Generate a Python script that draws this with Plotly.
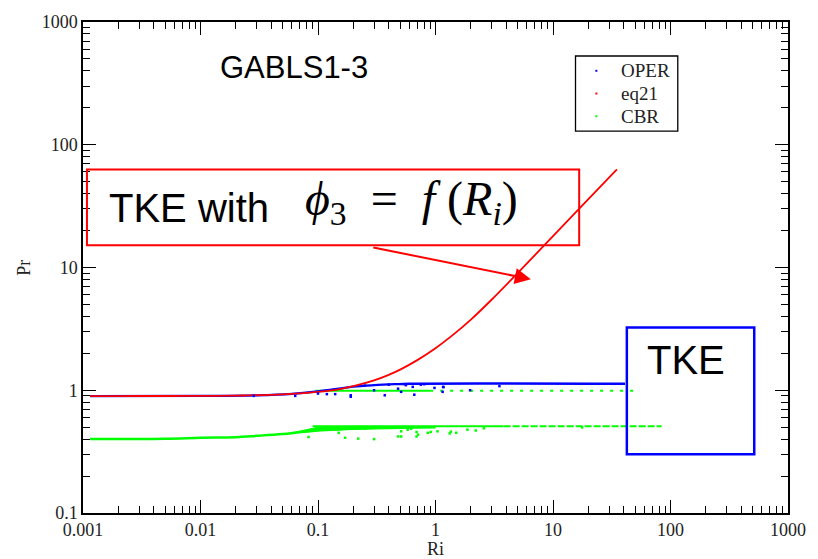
import plotly.graph_objects as go

# ---------------- data ----------------
eq21_ri = [0.00115, 0.002, 0.005, 0.01, 0.02, 0.05, 0.1, 0.15, 0.2, 0.3, 0.4, 0.5, 0.7,
           1.0, 1.4, 2.0, 3.0, 5.0, 10.0, 20.0, 35.0]
eq21_pr = [0.897, 0.897, 0.898, 0.9, 0.905, 0.925, 0.97, 1.018, 1.079, 1.203, 1.335, 1.472, 1.76,
           2.20, 2.81, 3.76, 5.46, 9.0, 18.0, 36.0, 63.0]

oper_ri = [0.00115, 0.01, 0.03, 0.06, 0.1, 0.15, 0.2, 0.3, 0.45, 0.6, 41.0]
oper_pr = [0.897, 0.9, 0.91, 0.935, 0.98, 1.03, 1.07, 1.1, 1.12, 1.13, 1.13]
oper_dot_ri = [0.56, 0.64, 0.66, 0.98, 1.15, 1.17, 1.97, 3.5, 0.75, 0.51, 0.19, 0.19, 0.119,
               0.14, 0.37, 1.16, 0.30, 0.48, 0.10, 0.064, 0.0284, 0.25, 0.4, 0.55, 0.8]
oper_dot_pr = [1.10, 1.065, 0.92, 1.045, 0.97, 1.06, 1.0, 1.08, 1.11, 0.97, 0.885, 0.91, 0.93,
               0.93, 0.91, 1.065, 1.0, 1.03, 0.94, 0.9, 0.9, 1.09, 1.11, 1.12, 1.12]

cbr_up_ri = [0.095, 0.2, 0.5, 0.9]
cbr_up_pr = [0.99, 0.99, 0.99, 0.99]
cbr_up2_ri = [0.9, 51.0]
cbr_up2_pr = [0.99, 0.99]
cbr_lo_ri = [0.00115, 0.005, 0.01, 0.02, 0.03, 0.05, 0.07, 0.1, 0.15, 0.2, 0.3, 0.5, 1.0]
cbr_lo_pr = [0.40, 0.403, 0.41, 0.415, 0.425, 0.44, 0.455, 0.47, 0.48, 0.485, 0.49, 0.495, 0.5]
cbr_top_ri = [0.09, 3.8]
cbr_top_pr = [0.508, 0.508]
cbr_top2_ri = [3.8, 84.0]
cbr_top2_pr = [0.508, 0.508]
cbr_band_ri = [0.06, 0.1, 0.2, 0.35, 0.35, 0.2, 0.1, 0.06]
cbr_band_pr = [0.45, 0.5, 0.508, 0.508, 0.49, 0.48, 0.47, 0.45]
cbr_dot_ri = [0.083, 0.17, 0.22, 0.30, 0.48, 0.71, 0.91, 1.35, 2.2, 0.15, 0.25, 0.37, 0.62,
              0.51, 0.58, 0.69, 0.86, 1.04, 1.32, 1.5, 1.87, 2.58, 17.7, 0.51, 0.69]
cbr_dot_pr = [0.416, 0.41, 0.404, 0.40, 0.42, 0.435, 0.457, 0.46, 0.47, 0.45, 0.486, 0.498, 0.486,
              0.463, 0.477, 0.457, 0.45, 0.463, 0.445, 0.45, 0.477, 0.49, 0.498, 0.42, 0.42]

legend_names = ["OPER", "eq21", "CBR"]
x_tickvals = [0.001, 0.01, 0.1, 1, 10, 100, 1000]
x_ticktext = ["0.001", "0.01", "0.1", "1", "10", "100", "1000"]
y_tickvals = [0.1, 1, 10, 100, 1000]
y_ticktext = ["0.1", "1", "10", "100", "1000"]

BLUE, RED, GREEN = "#0000ff", "#ff0000", "#00ff00"
SERIF = "Liberation Serif"
SANS = "Liberation Sans"
TXT = "#222222"

# ---------------- layout geometry ----------------
WIDTH, HEIGHT = 818, 559
PL, PR, PT, PB = 83, 793, 15.6, 512.7
PW, PH = PR - PL, PB - PT


def px(x):
    return (x - PL) / PW


def py(y):
    return (PB - y) / PH


fig = go.Figure()

# green (CBR)
fig.add_trace(go.Scatter(x=cbr_band_ri, y=cbr_band_pr, mode="lines", fill="toself",
                         fillcolor=GREEN, line=dict(color=GREEN, width=1), name="CBR",
                         showlegend=False))
fig.add_trace(go.Scatter(x=cbr_lo_ri, y=cbr_lo_pr, mode="lines", line_shape="spline",
                         line=dict(color=GREEN, width=2.5), name="CBR", showlegend=False))
fig.add_trace(go.Scatter(x=cbr_top_ri, y=cbr_top_pr, mode="lines",
                         line=dict(color=GREEN, width=2), name="CBR", showlegend=False))
fig.add_trace(go.Scatter(x=cbr_top2_ri, y=cbr_top2_pr, mode="lines",
                         line=dict(color=GREEN, width=2, dash="7px,2px"), name="CBR",
                         showlegend=False))
fig.add_trace(go.Scatter(x=cbr_up_ri, y=cbr_up_pr, mode="lines",
                         line=dict(color=GREEN, width=2), name="CBR", showlegend=False))
fig.add_trace(go.Scatter(x=cbr_up2_ri, y=cbr_up2_pr, mode="lines",
                         line=dict(color=GREEN, width=2, dash="3px,7px"), name="CBR",
                         showlegend=False))
fig.add_trace(go.Scatter(x=cbr_dot_ri, y=cbr_dot_pr, mode="markers", name="CBR",
                         marker=dict(color=GREEN, size=2.5, symbol="square"), showlegend=False))
# blue (OPER)
fig.add_trace(go.Scatter(x=oper_ri, y=oper_pr, mode="lines", line_shape="spline",
                         line=dict(color=BLUE, width=2.3), name="OPER", showlegend=False))
# red (eq21)
fig.add_trace(go.Scatter(x=eq21_ri, y=eq21_pr, mode="lines", line_shape="spline",
                         line=dict(color=RED, width=1.8), name="eq21", showlegend=False))
fig.add_trace(go.Scatter(x=oper_dot_ri, y=oper_dot_pr, mode="markers", name="OPER",
                         marker=dict(color=BLUE, size=2.5, symbol="square"), showlegend=False))

axis_common = dict(
    type="log", showgrid=False, zeroline=False, showline=True, linecolor="black",
    linewidth=1.5, mirror="allticks", ticks="inside", ticklen=13, tickwidth=1.2,
    tickcolor="black", tickfont=dict(family=SERIF, size=18, color=TXT),
    tickmode="array",
)

x_minor = [m * 10 ** e for e in range(-3, 3) for m in range(2, 10)]
y_minor = [m * 10 ** e for e in range(-1, 3) for m in range(2, 10)]

fig.update_xaxes(range=[-3, 3], tickvals=x_tickvals, ticktext=x_ticktext,
                 minor=dict(tickmode="array", tickvals=x_minor, ticks="inside", ticklen=7,
                            tickwidth=1.2, tickcolor="black", showgrid=False),
                 **axis_common)
fig.update_yaxes(range=[-1, 3], tickvals=y_tickvals, ticktext=y_ticktext,
                 minor=dict(tickmode="array", tickvals=y_minor, ticks="inside", ticklen=7,
                            tickwidth=1.2, tickcolor="black", showgrid=False),
                 **axis_common)


def ann(text, x, y, size, family, **kw):
    d = dict(text=text, x=px(x), y=py(y), xref="paper", yref="paper", showarrow=False,
             xanchor="center", yanchor="middle",
             font=dict(family=family, size=size, color=kw.pop("color", "black")))
    d.update(kw)
    return d


shapes = [
    dict(type="rect", xref="paper", yref="paper", x0=px(87), x1=px(582.7),
         y0=py(241.7), y1=py(165), line=dict(color=RED, width=2)),
    dict(type="rect", xref="paper", yref="paper", x0=px(630.7), x1=px(759),
         y0=py(453.3), y1=py(325), line=dict(color=BLUE, width=2.5)),
    # legend frame
    dict(type="rect", xref="paper", yref="paper", x0=px(579), x1=px(682),
         y0=py(126), y1=py(50), line=dict(color="black", width=1.3),
         fillcolor="white", layer="above"),
]

annotations = [
    ann("GABLS1-3", 295, 62, 31, SANS),
    ann("TKE with", 190, 204, 40, SANS),
    ann("<i>ϕ</i><sub>3</sub>&nbsp; = &nbsp;<i>f</i> (<i>R</i><sub><i>i</i></sub>)",
        414, 198, 48, SERIF),
    ann("TKE", 690, 358, 40, SANS),
    dict(text="", x=px(534), y=py(276), xref="paper", yref="paper",
         showarrow=True, ax=-159, ay=-32, arrowhead=2, arrowsize=1.6, arrowwidth=2,
         arrowcolor=RED, standoff=0),
    ann("Ri", 438, 549, 18, SERIF, color=TXT),
    ann("Pr", 24, 264, 18, SERIF, color=TXT, textangle=-90),
]

# manual legend (markers + labels)
legend_y = [65, 88, 111]
for name, col, ly in zip(legend_names, [BLUE, RED, GREEN], legend_y):
    shapes.append(dict(type="rect", xref="paper", yref="paper",
                       x0=px(599), x1=px(601), y0=py(ly + 1), y1=py(ly - 1),
                       line=dict(width=0), fillcolor=col, layer="above"))
    annotations.append(ann(name, 623, ly, 19, SERIF, color=TXT, xanchor="left"))

fig.update_layout(
    width=WIDTH, height=HEIGHT,
    margin=dict(l=PL, r=WIDTH - PR, t=PT, b=HEIGHT - PB),
    paper_bgcolor="white", plot_bgcolor="white",
    shapes=shapes, annotations=annotations, showlegend=False,
)

fig.write_html("out.html")
